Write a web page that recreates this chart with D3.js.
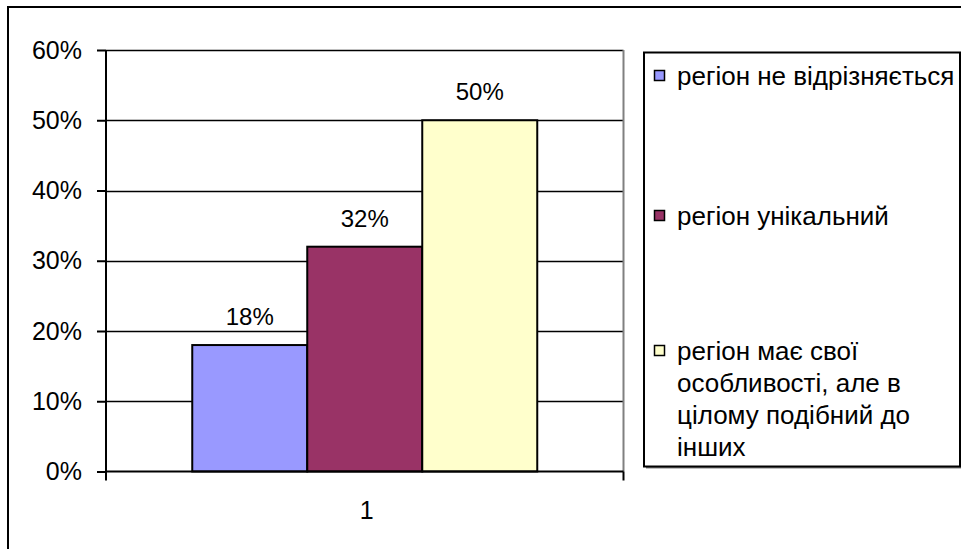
<!DOCTYPE html>
<html>
<head>
<meta charset="utf-8">
<script src="https://cdn.jsdelivr.net/npm/d3@7"></script>
<style>
  html, body { margin: 0; padding: 0; background: #fff; }
  svg { display: block; font-family: "Liberation Sans", Arial, sans-serif; }
</style>
</head>
<body>
<svg id="chart" width="961" height="549"></svg>
<script>
// Survey answers: how respondents see their region
const categories = ["1"];
const seriesNames = [
  "регіон не відрізняється",
  "регіон унікальний",
  "регіон має свої особливості, але в цілому подібний до інших"
];
const seriesValues = [18, 32, 50];
const seriesColors = ["#9999FF", "#993366", "#FFFFCC"];
const yTicks = [0, 10, 20, 30, 40, 50, 60];
// Legend text broken into display lines
const legendLines = [
  ["регіон не відрізняється"],
  ["регіон унікальний"],
  ["регіон має свої", "особливості, але в", "цілому подібний до", "інших"]
];

const svg = d3.select("#chart");
const tickFont = 25, valueFont = 24, legendFont = 26;

// Chart frame
svg.append("rect")
  .attr("x", 8).attr("y", 7).attr("width", 1000).attr("height", 600)
  .attr("fill", "none").attr("stroke", "#000").attr("stroke-width", 2);

const plot = { left: 106, right: 623.5, top: 50, bottom: 471.5 };

const y = d3.scaleLinear().domain([0, 60]).range([plot.bottom, plot.top]);
const x = d3.scaleBand().domain(categories).range([plot.left, plot.right]).paddingInner(0).paddingOuter(0);
const inner = d3.scaleBand().domain(d3.range(seriesValues.length))
  .range([0, x.bandwidth()]).paddingOuter(0.75).paddingInner(0);

// Gridlines
svg.append("g").selectAll("line").data(yTicks.slice(1)).join("line")
  .attr("x1", plot.left).attr("x2", plot.right)
  .attr("y1", d => Math.round(y(d)) + 0.5).attr("y2", d => Math.round(y(d)) + 0.5)
  .attr("stroke", "#000").attr("stroke-width", 1.5);

// Plot area border (right side grey)
svg.append("line")
  .attr("x1", plot.right).attr("x2", plot.right)
  .attr("y1", plot.top).attr("y2", plot.bottom)
  .attr("stroke", "#808080").attr("stroke-width", 2);

// Bars
const cat = categories[0];
svg.append("g").selectAll("rect").data(seriesValues).join("rect")
  .attr("x", (d, i) => x(cat) + inner(i))
  .attr("y", d => y(d))
  .attr("width", inner.bandwidth())
  .attr("height", d => y(0) - y(d))
  .attr("fill", (d, i) => seriesColors[i])
  .attr("stroke", "#000").attr("stroke-width", 2);

// Value labels
svg.append("g").selectAll("text").data(seriesValues).join("text")
  .attr("x", (d, i) => x(cat) + inner(i) + inner.bandwidth() / 2)
  .attr("y", d => y(d) - 20)
  .attr("text-anchor", "middle")
  .attr("font-size", valueFont)
  .attr("fill", "#000")
  .text(d => d + "%");

// Y axis
const yAxis = d3.axisLeft(y).tickValues(yTicks).tickFormat(d => d + "%")
  .tickSize(9).tickPadding(15);
const gy = svg.append("g").attr("transform", `translate(${plot.left},0)`).call(yAxis);
gy.select(".domain").attr("stroke", "#000").attr("stroke-width", 2).attr("d", `M0,${plot.top}V${plot.bottom}`);
gy.selectAll(".tick line").attr("stroke", "#000").attr("stroke-width", 2);
gy.selectAll(".tick text").attr("font-size", tickFont).attr("font-family", "Liberation Sans, Arial, sans-serif").attr("fill", "#000");

// X axis
const gx = svg.append("g").attr("transform", `translate(0,${plot.bottom})`);
gx.append("line").attr("x1", plot.left).attr("x2", plot.right).attr("y1", 0).attr("y2", 0)
  .attr("stroke", "#000").attr("stroke-width", 2);
gx.selectAll("line.tk").data([plot.left, plot.right]).join("line").attr("class", "tk")
  .attr("x1", d => d).attr("x2", d => d).attr("y1", 0).attr("y2", 9)
  .attr("stroke", "#000").attr("stroke-width", 2);
gx.selectAll("text").data(categories).join("text")
  .attr("x", d => x(d) + x.bandwidth() / 2 + 2)
  .attr("y", 47)
  .attr("text-anchor", "middle")
  .attr("font-size", tickFont)
  .text(d => d);

// Legend
const lg = { x: 644, y: 52.5, w: 316, h: 414 };
svg.append("rect").attr("x", lg.x + 2).attr("y", lg.y + 2).attr("width", lg.w).attr("height", lg.h)
  .attr("fill", "#808080");
svg.append("rect").attr("x", lg.x).attr("y", lg.y).attr("width", lg.w).attr("height", lg.h)
  .attr("fill", "#fff").attr("stroke", "#000").attr("stroke-width", 2);

const entryBaselines = [85, 225, 360];
const lineGap = 32;
const legend = svg.append("g").selectAll("g").data(seriesNames).join("g");
legend.append("rect")
  .attr("x", 654.5).attr("y", (d, i) => entryBaselines[i] - 14.5)
  .attr("width", 10).attr("height", 10)
  .attr("fill", (d, i) => seriesColors[i]).attr("stroke", "#000").attr("stroke-width", 1.5);
legend.append("text")
  .attr("x", 677).attr("y", (d, i) => entryBaselines[i])
  .attr("font-size", legendFont)
  .selectAll("tspan").data((d, i) => legendLines[i]).join("tspan")
  .attr("x", 677).attr("dy", (d, j) => j === 0 ? 0 : lineGap)
  .text(d => d);
</script>
</body>
</html>
